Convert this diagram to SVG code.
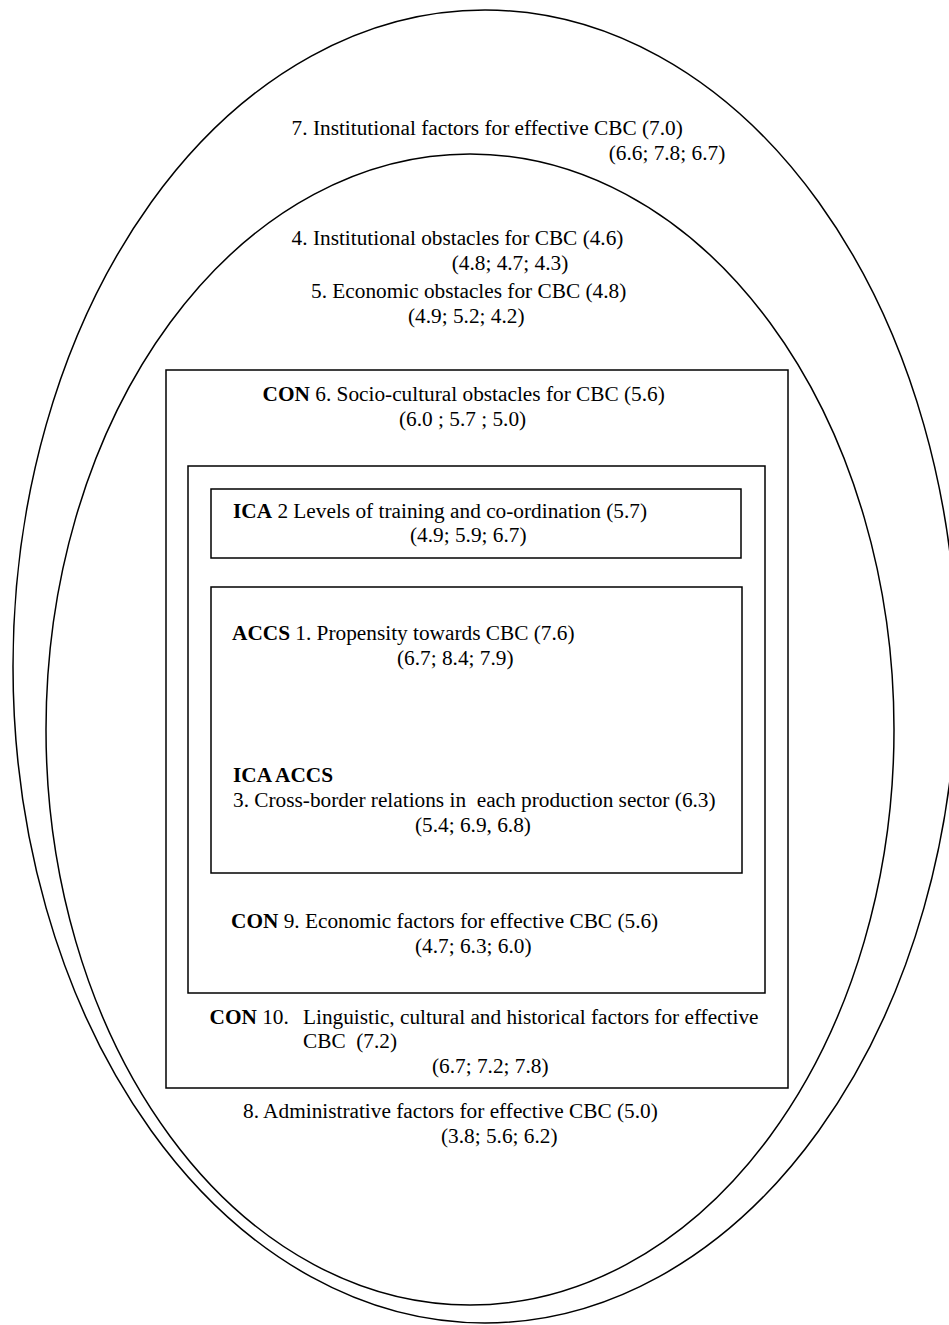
<svg xmlns="http://www.w3.org/2000/svg" width="949" height="1325" viewBox="0 0 949 1325">
<style>
  .shape { fill: none; stroke: #000; stroke-width: 1.5; }
  text { font-family: "Liberation Serif", "Times New Roman", serif; font-size: 21.3px; fill: #000; white-space: pre; }
  .b { font-weight: bold; }
</style>
<rect x="0" y="0" width="949" height="1325" fill="#fff"/>
<g id="ellipse-institutional-factors">
  <ellipse class="shape" cx="485" cy="666.5" rx="472" ry="656.5"/>
  <text x="291.6" y="135">7. Institutional factors for effective CBC (7.0)</text>
  <text x="608.7" y="160">(6.6; 7.8; 6.7)</text>
</g>
<g id="ellipse-obstacles">
  <ellipse class="shape" cx="470" cy="729.5" rx="424" ry="575.5"/>
  <text x="291.6" y="245">4. Institutional obstacles for CBC (4.6)</text>
  <text x="451.7" y="270">(4.8; 4.7; 4.3)</text>
  <text x="311" y="298">5. Economic obstacles for CBC (4.8)</text>
  <text x="408" y="323">(4.9; 5.2; 4.2)</text>
  <text x="243" y="1118">8. Administrative factors for effective CBC (5.0)</text>
  <text x="441" y="1143">(3.8; 5.6; 6.2)</text>
</g>
<g id="box-socio-cultural">
  <rect class="shape" x="166" y="370" width="622" height="718"/>
  <text x="262.6" y="401"><tspan class="b">CON</tspan> 6. Socio-cultural obstacles for CBC (5.6)</text>
  <text x="399" y="426">(6.0 ; 5.7 ; 5.0)</text>
  <text x="209.5" y="1024"><tspan class="b">CON</tspan> 10.</text>
  <text x="303" y="1024">Linguistic, cultural and historical factors for effective</text>
  <text x="303" y="1048">CBC  (7.2)</text>
  <text x="432" y="1073">(6.7; 7.2; 7.8)</text>
</g>
<g id="box-economic-factors">
  <rect class="shape" x="188" y="466" width="577" height="527"/>
  <text x="231" y="928"><tspan class="b">CON</tspan> 9. Economic factors for effective CBC (5.6)</text>
  <text x="415" y="953">(4.7; 6.3; 6.0)</text>
</g>
<g id="box-training">
  <rect class="shape" x="211" y="489" width="530" height="69"/>
  <text x="233" y="518"><tspan class="b">ICA</tspan> 2 Levels of training and co-ordination (5.7)</text>
  <text x="410" y="542">(4.9; 5.9; 6.7)</text>
</g>
<g id="box-propensity">
  <rect class="shape" x="211" y="587" width="531" height="286"/>
  <text x="232" y="640"><tspan class="b">ACCS</tspan> 1. Propensity towards CBC (7.6)</text>
  <text x="397" y="665">(6.7; 8.4; 7.9)</text>
  <text x="233" y="782" class="b">ICA ACCS</text>
  <text x="233" y="807">3. Cross-border relations in  each production sector (6.3)</text>
  <text x="415" y="832">(5.4; 6.9, 6.8)</text>
</g>
</svg>
